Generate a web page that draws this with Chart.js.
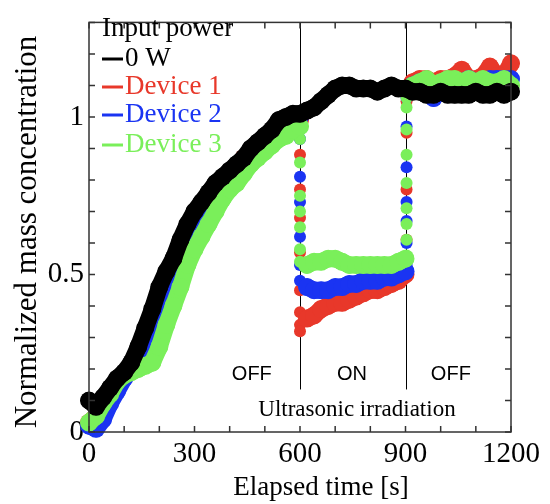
<!DOCTYPE html>
<html>
<head>
<meta charset="utf-8">
<script src="https://cdn.jsdelivr.net/npm/chart.js@4.4.1/dist/chart.umd.min.js"></script>
<style>
  html, body { margin: 0; padding: 0; background: #fff; }
  #wrap { width: 550px; height: 504px; position: relative; }
</style>
</head>
<body>
<div id="wrap"><canvas id="massChart"></canvas></div>
<script>
// Tiempos de muestreo [s]
const elapsed = [0, 20, 40, 60, 80, 100, 120, 140, 160, 180, 200, 220, 240, 260, 280, 300,
  320, 340, 360, 380, 400, 420, 440, 460, 480, 500, 520, 540, 560, 580, 600,
  620, 640, 660, 680, 700, 720, 740, 760, 780, 800, 820, 840, 860, 880, 900,
  920, 940, 960, 980, 1000, 1020, 1040, 1060, 1080, 1100, 1120, 1140, 1160, 1180, 1200];

// Concentración normalizada por serie
const power0W = [0.10, 0.08, 0.11, 0.14, 0.17, 0.19, 0.22, 0.27, 0.33, 0.39, 0.46, 0.51, 0.55, 0.61, 0.66, 0.70,
  0.73, 0.76, 0.79, 0.81, 0.83, 0.85, 0.87, 0.90, 0.92, 0.94, 0.96, 0.99, 1.00, 1.01, 1.01,
  1.02, 1.03, 1.05, 1.07, 1.09, 1.10, 1.10, 1.09, 1.09, 1.09, 1.08, 1.09, 1.10, 1.09, 1.09,
  1.08, 1.08, 1.07, 1.07, 1.08, 1.07, 1.07, 1.07, 1.07, 1.08, 1.07, 1.07, 1.08, 1.07, 1.08];
const device1 = [0.03, 0.05, 0.08, 0.12, 0.15, 0.18, 0.21, 0.25, 0.31, 0.37, 0.44, 0.48, 0.53, 0.58, 0.63, 0.68,
  0.72, 0.75, 0.78, 0.80, 0.82, 0.84, 0.87, 0.89, 0.91, 0.93, 0.95, 0.96, 0.98, 0.99, 0.99,
  0.36, 0.37, 0.39, 0.40, 0.41, 0.41, 0.42, 0.43, 0.44, 0.45, 0.45, 0.46, 0.47, 0.48, 0.50,
  1.11, 1.12, 1.12, 1.11, 1.12, 1.12, 1.13, 1.15, 1.12, 1.12, 1.13, 1.16, 1.13, 1.13, 1.17];
const device2 = [0.02, 0.01, 0.04, 0.09, 0.13, 0.17, 0.21, 0.24, 0.27, 0.33, 0.40, 0.45, 0.50, 0.56, 0.61, 0.66,
  0.70, 0.73, 0.76, 0.79, 0.81, 0.83, 0.86, 0.88, 0.90, 0.93, 0.95, 0.97, 0.99, 1.00, 1.00,
  0.46, 0.45, 0.45, 0.45, 0.46, 0.46, 0.47, 0.47, 0.48, 0.48, 0.48, 0.49, 0.49, 0.50, 0.51,
  1.10, 1.11, 1.10, 1.06, 1.10, 1.11, 1.11, 1.11, 1.12, 1.11, 1.11, 1.12, 1.12, 1.12, 1.12];
const device3 = [0.03, 0.05, 0.09, 0.12, 0.16, 0.18, 0.19, 0.20, 0.21, 0.22, 0.27, 0.34, 0.40, 0.46, 0.53, 0.58,
  0.62, 0.66, 0.70, 0.74, 0.77, 0.79, 0.82, 0.85, 0.87, 0.89, 0.91, 0.93, 0.94, 0.96, 0.97,
  0.53, 0.54, 0.54, 0.55, 0.55, 0.54, 0.53, 0.53, 0.53, 0.53, 0.53, 0.53, 0.53, 0.54, 0.55,
  1.10, 1.11, 1.12, 1.10, 1.11, 1.12, 1.12, 1.11, 1.12, 1.11, 1.12, 1.11, 1.11, 1.12, 1.10];

// Muestras del transitorio al encender (600 s) y apagar (900 s) el ultrasonido
const dropTime = 600;
const riseTime = 903;
const device1Drop = [0.97, 0.88, 0.77, 0.68, 0.57, 0.45, 0.38, 0.34, 0.32];
const device2Drop = [0.97, 0.93, 0.81, 0.73, 0.62, 0.53, 0.48];
const device3Drop = [0.96, 0.93, 0.855, 0.75, 0.70, 0.65, 0.58, 0.54];
const device1Rise = [0.52, 0.61, 0.77, 0.95, 1.05, 1.09];
const device2Rise = [0.53, 0.60, 0.67, 0.73, 0.84, 0.97, 1.06];
const device3Rise = [0.56, 0.61, 0.66, 0.71, 0.79, 0.88, 0.96, 1.03, 1.06];

const seriesNames = ['0 W', 'Device 1', 'Device 2', 'Device 3'];
const seriesColors = ['#000000', '#e8382a', '#1a34f2', '#7aef5a'];

// Etiquetas del ensayo
const phaseLabels = ['OFF', 'ON', 'OFF'];
const phaseTimes = [463, 748, 1029];
const switchTimes = [600, 900];

const serif = "'Liberation Serif', 'Times New Roman', serif";
const sans = "'Liberation Sans', Arial, sans-serif";

function toPoints(values) {
  return values.map((v, i) => ({ x: elapsed[i], y: v }));
}
function columnPoints(t, values) {
  return values.map(v => ({ x: t, y: v }));
}

function mainSeries(data, color) {
  return {
    data: data,
    showLine: true,
    borderColor: color,
    backgroundColor: color,
    borderWidth: 17,
    borderJoinStyle: 'round',
    borderCapStyle: 'round',
    pointRadius: 9,
    pointBorderWidth: 0,
    clip: false,
    segment: {
      // no unir los saltos al encender/apagar
      borderColor: ctx => Math.abs(ctx.p1.parsed.y - ctx.p0.parsed.y) > 0.2 ? 'rgba(0,0,0,0)' : undefined
    }
  };
}
function stepSeries(data, color) {
  return {
    data: data,
    showLine: false,
    backgroundColor: color,
    borderColor: color,
    pointRadius: 6,
    pointBorderWidth: 0,
    clip: false
  };
}

// Marco con marcas hacia dentro en los cuatro lados
const framePlugin = {
  id: 'frame',
  beforeDatasetsDraw(chart) {
    const { ctx, chartArea: a, scales: { x, y } } = chart;
    ctx.save();
    ctx.strokeStyle = '#000';
    ctx.lineWidth = 1;
    switchTimes.forEach(t => {
      const px = Math.round(x.getPixelForValue(t)) + 0.5;
      ctx.beginPath();
      ctx.moveTo(px, a.top);
      ctx.lineTo(px, y.getPixelForValue(0.135));
      ctx.stroke();
    });
    ctx.restore();
  },
  afterDatasetsDraw(chart) {
    const { ctx, chartArea: a, scales: { x, y } } = chart;
    ctx.save();
    ctx.strokeStyle = '#333';
    ctx.lineWidth = 1.5;
    ctx.strokeRect(a.left, a.top, a.right - a.left, a.bottom - a.top);
    const len = 6;
    ctx.beginPath();
    x.ticks.forEach(tk => {
      const px = x.getPixelForValue(tk.value);
      ctx.moveTo(px, a.bottom); ctx.lineTo(px, a.bottom - len);
      ctx.moveTo(px, a.top); ctx.lineTo(px, a.top + len);
    });
    y.ticks.forEach(tk => {
      const py = y.getPixelForValue(tk.value);
      ctx.moveTo(a.left, py); ctx.lineTo(a.left + len, py);
      ctx.moveTo(a.right, py); ctx.lineTo(a.right - len, py);
    });
    ctx.stroke();

    // textos de fases
    ctx.fillStyle = '#000';
    ctx.textAlign = 'center';
    ctx.textBaseline = 'alphabetic';
    ctx.font = '20px ' + sans;
    phaseLabels.forEach((txt, i) => {
      ctx.fillText(txt, x.getPixelForValue(phaseTimes[i]), y.getPixelForValue(0.166));
    });
    ctx.font = '23px ' + serif;
    ctx.fillText('Ultrasonic irradiation', x.getPixelForValue(762), y.getPixelForValue(0.052));

    // leyenda
    ctx.textAlign = 'left';
    ctx.font = '27px ' + serif;
    ctx.fillText('Input power', 102, 36);
    const lineY = [59, 87, 115, 145];
    seriesNames.forEach((name, i) => {
      ctx.strokeStyle = seriesColors[i];
      ctx.lineWidth = 3;
      ctx.beginPath();
      ctx.moveTo(102, lineY[i]);
      ctx.lineTo(123, lineY[i]);
      ctx.stroke();
      ctx.fillStyle = seriesColors[i];
      ctx.fillText(name, 125, lineY[i] + 7);
    });

    // títulos de ejes
    ctx.fillStyle = '#000';
    ctx.textAlign = 'center';
    ctx.font = '27px ' + serif;
    ctx.fillText('Elapsed time [s]', 321, 495);
    ctx.translate(36, 232);
    ctx.rotate(-Math.PI / 2);
    ctx.font = '31px ' + serif;
    ctx.fillText('Normalized mass concentration', 0, 0);
    ctx.restore();
  }
};

const massChart = new Chart(document.getElementById('massChart'), {
  type: 'scatter',
  data: {
    datasets: [
      mainSeries(toPoints(power0W), seriesColors[0]),
      mainSeries(toPoints(device3), seriesColors[3]),
      mainSeries(toPoints(device2), seriesColors[2]),
      mainSeries(toPoints(device1), seriesColors[1]),
      stepSeries(columnPoints(dropTime, device3Drop), seriesColors[3]),
      stepSeries(columnPoints(riseTime, device3Rise), seriesColors[3]),
      stepSeries(columnPoints(dropTime, device2Drop), seriesColors[2]),
      stepSeries(columnPoints(riseTime, device2Rise), seriesColors[2]),
      stepSeries(columnPoints(dropTime, device1Drop), seriesColors[1]),
      stepSeries(columnPoints(riseTime, device1Rise), seriesColors[1])
    ]
  },
  options: {
    responsive: true,
    maintainAspectRatio: false,
    animation: false,
    layout: { padding: { top: 9, right: 39, left: 0, bottom: 0 } },
    plugins: {
      legend: { display: false },
      tooltip: { enabled: false }
    },
    scales: {
      x: {
        type: 'linear',
        min: 0,
        max: 1200,
        afterFit: s => { s.height = 72; },
        grid: { display: false, drawTicks: false },
        border: { display: false },
        ticks: {
          stepSize: 100,
          autoSkip: false,
          maxRotation: 0,
          padding: 5,
          color: '#000',
          font: { family: serif, size: 29 },
          callback: v => (v % 300 === 0 ? String(v) : '')
        }
      },
      y: {
        min: 0,
        max: 1.3,
        afterFit: s => { s.width = 89; },
        grid: { display: false, drawTicks: false },
        border: { display: false },
        ticks: {
          stepSize: 0.1,
          autoSkip: false,
          padding: 5,
          color: '#000',
          font: { family: serif, size: 29 },
          callback: v => {
            const r = Math.round(v * 10) / 10;
            return (r === 0 || r === 0.5 || r === 1) ? String(r) : '';
          }
        }
      }
    }
  },
  plugins: [framePlugin]
});
</script>
</body>
</html>
